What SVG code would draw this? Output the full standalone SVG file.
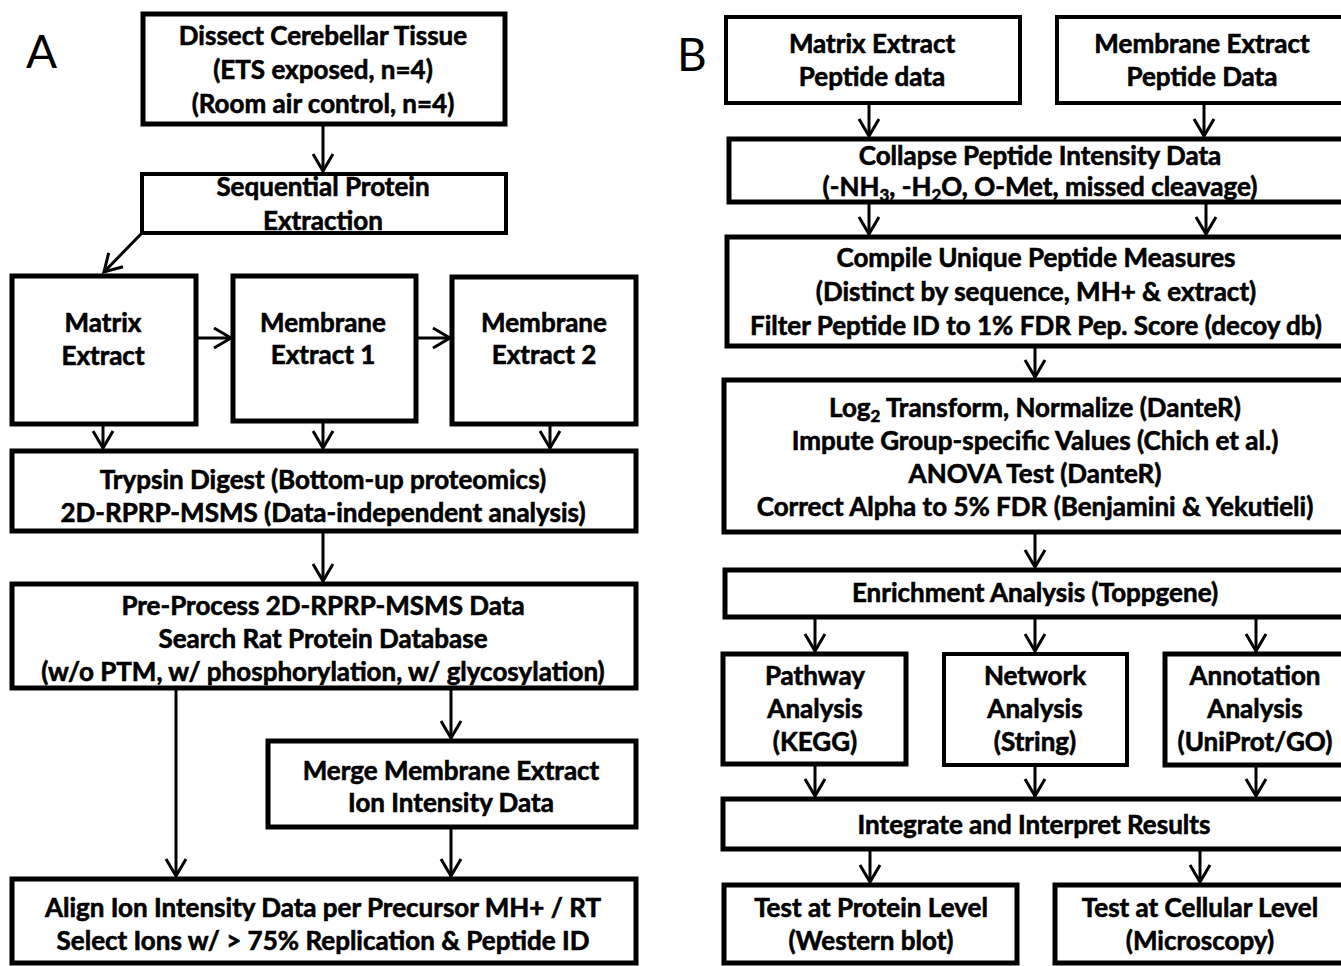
<svg xmlns="http://www.w3.org/2000/svg" width="1341" height="966" viewBox="0 0 1341 966">
<style>
.bx{fill:#fff;stroke:#000;stroke-width:5}
.th{stroke-width:4}
.t{font-family:Lato,"Open Sans",sans-serif;font-weight:bold;font-size:26px;text-anchor:middle;fill:#000;stroke:#000;stroke-width:0.6px}
.lbl{font-family:Lato,"Open Sans",sans-serif;font-size:46px;fill:#000}
.c line{stroke:#000;stroke-width:3;marker-end:url(#ah)}
.sub{font-size:17px}
</style>
<defs>
<marker id="ah" markerUnits="userSpaceOnUse" markerWidth="30" markerHeight="30" viewBox="-20 -15 30 30" refX="0" refY="0" orient="auto" overflow="visible">
<path d="M-17,-10 L0,0 L-17,10" fill="none" stroke="#000" stroke-width="3"/>
</marker>
</defs>
<rect width="1341" height="966" fill="#fff"/>
<text class="lbl" x="26" y="68">A</text>
<text class="lbl" x="677" y="71">B</text>

<g class="c" id="connectors">
<line x1="323" y1="124" x2="323" y2="171"/>
<line x1="141" y1="234" x2="104" y2="272"/>
<line x1="197" y1="338" x2="231" y2="338"/>
<line x1="416" y1="338" x2="450" y2="338"/>
<line x1="103" y1="424" x2="103" y2="448"/>
<line x1="323" y1="421" x2="323" y2="448"/>
<line x1="550" y1="424" x2="550" y2="448"/>
<line x1="323" y1="531" x2="323" y2="581"/>
<line x1="176" y1="688" x2="176" y2="876"/>
<line x1="451" y1="688" x2="451" y2="738"/>
<line x1="451" y1="827" x2="451" y2="876"/>
<line x1="869" y1="103" x2="869" y2="136"/>
<line x1="1204" y1="103" x2="1204" y2="136"/>
<line x1="869" y1="202" x2="869" y2="234"/>
<line x1="1206" y1="202" x2="1206" y2="234"/>
<line x1="1035" y1="346" x2="1035" y2="377"/>
<line x1="1035" y1="532" x2="1035" y2="567"/>
<line x1="815" y1="617" x2="815" y2="651"/>
<line x1="1035" y1="617" x2="1035" y2="651"/>
<line x1="1256" y1="617" x2="1256" y2="651"/>
<line x1="815" y1="764" x2="815" y2="796"/>
<line x1="1035" y1="765" x2="1035" y2="796"/>
<line x1="1256" y1="765" x2="1256" y2="796"/>
<line x1="870" y1="849" x2="870" y2="882"/>
<line x1="1200" y1="849" x2="1200" y2="882"/>
</g>

<g id="dissect"><rect class="bx" x="143" y="14" width="362" height="110"/>
<text class="t" x="323" y="45">Dissect Cerebellar Tissue</text>
<text class="t" x="323" y="79">(ETS exposed, n=4)</text>
<text class="t" x="323" y="113">(Room air control, n=4)</text></g>

<g id="sequential"><rect class="bx th" x="142" y="174" width="364" height="59"/>
<text class="t" x="323" y="196">Sequential Protein</text>
<text class="t" x="323" y="230">Extraction</text></g>

<g id="matrix"><rect class="bx" x="12" y="276" width="184" height="148"/>
<text class="t" x="103" y="332">Matrix</text>
<text class="t" x="103" y="365">Extract</text></g>

<g id="mem1"><rect class="bx" x="233" y="276" width="183" height="145"/>
<text class="t" x="323" y="332">Membrane</text>
<text class="t" x="323" y="364">Extract 1</text></g>

<g id="mem2"><rect class="bx" x="452" y="277" width="184" height="147"/>
<text class="t" x="544" y="332">Membrane</text>
<text class="t" x="544" y="364">Extract 2</text></g>

<g id="trypsin"><rect class="bx" x="12" y="451" width="624" height="80"/>
<text class="t" x="323" y="489">Trypsin Digest (Bottom-up proteomics)</text>
<text class="t" x="323" y="522">2D-RPRP-MSMS (Data-independent analysis)</text></g>

<g id="preprocess"><rect class="bx" x="12" y="584" width="624" height="104"/>
<text class="t" x="323" y="615">Pre-Process 2D-RPRP-MSMS Data</text>
<text class="t" x="323" y="648">Search Rat Protein Database</text>
<text class="t" x="323" y="681">(w/o PTM, w/ phosphorylation, w/ glycosylation)</text></g>

<g id="merge"><rect class="bx" x="268" y="741" width="368" height="86"/>
<text class="t" x="451" y="780">Merge Membrane Extract</text>
<text class="t" x="451" y="812">Ion Intensity Data</text></g>

<g id="align"><rect class="bx" x="12" y="879" width="624" height="84"/>
<text class="t" x="323" y="917">Align Ion Intensity Data per Precursor MH+ / RT</text>
<text class="t" x="323" y="950">Select Ions w/ &gt; 75% Replication &amp; Peptide ID</text></g>

<g id="matrixpep"><rect class="bx th" x="726" y="17" width="294" height="86"/>
<text class="t" x="872" y="53">Matrix Extract</text>
<text class="t" x="872" y="86">Peptide data</text></g>

<g id="membranepep"><rect class="bx th" x="1057" y="17" width="300" height="86"/>
<text class="t" x="1202" y="53">Membrane Extract</text>
<text class="t" x="1202" y="86">Peptide Data</text></g>

<g id="collapse"><rect class="bx" x="729" y="139" width="630" height="63"/>
<text class="t" x="1040" y="165">Collapse Peptide Intensity Data</text>
<text class="t" x="1040" y="196">(-NH<tspan class="sub" dy="5">3</tspan><tspan dy="-5">, -H</tspan><tspan class="sub" dy="5">2</tspan><tspan dy="-5">O, O-Met, missed cleavage)</tspan></text></g>

<g id="compile"><rect class="bx" x="727" y="237" width="630" height="109"/>
<text class="t" x="1036" y="267">Compile Unique Peptide Measures</text>
<text class="t" x="1036" y="301">(Distinct by sequence, MH+ &amp; extract)</text>
<text class="t" x="1036" y="335">Filter Peptide ID to 1% FDR Pep. Score (decoy db)</text></g>

<g id="stats"><rect class="bx" x="724" y="380" width="635" height="152"/>
<text class="t" x="1035" y="417">Log<tspan class="sub" dy="5">2</tspan><tspan dy="-5"> Transform, Normalize (DanteR)</tspan></text>
<text class="t" x="1035" y="450">Impute Group-specific Values (Chich et al.)</text>
<text class="t" x="1035" y="483">ANOVA Test (DanteR)</text>
<text class="t" x="1035" y="516">Correct Alpha to 5% FDR (Benjamini &amp; Yekutieli)</text></g>

<g id="enrichment"><rect class="bx" x="725" y="570" width="634" height="47"/>
<text class="t" x="1035" y="602">Enrichment Analysis (Toppgene)</text></g>

<g id="pathway"><rect class="bx" x="723" y="654" width="183" height="110"/>
<text class="t" x="815" y="685">Pathway</text>
<text class="t" x="815" y="718">Analysis</text>
<text class="t" x="815" y="751">(KEGG)</text></g>

<g id="network"><rect class="bx th" x="944" y="654" width="183" height="111"/>
<text class="t" x="1035" y="685">Network</text>
<text class="t" x="1035" y="718">Analysis</text>
<text class="t" x="1035" y="751">(String)</text></g>

<g id="annotation"><rect class="bx" x="1165" y="654" width="190" height="111"/>
<text class="t" x="1255" y="685">Annotation</text>
<text class="t" x="1255" y="718">Analysis</text>
<text class="t" x="1255" y="751">(UniProt/GO)</text></g>

<g id="integrate"><rect class="bx" x="723" y="799" width="636" height="50"/>
<text class="t" x="1034" y="834">Integrate and Interpret Results</text></g>

<g id="testprotein"><rect class="bx" x="724" y="885" width="293" height="78"/>
<text class="t" x="871" y="917">Test at Protein Level</text>
<text class="t" x="871" y="950">(Western blot)</text></g>

<g id="testcellular"><rect class="bx" x="1055" y="885" width="300" height="78"/>
<text class="t" x="1200" y="917">Test at Cellular Level</text>
<text class="t" x="1200" y="950">(Microscopy)</text></g>
</svg>
